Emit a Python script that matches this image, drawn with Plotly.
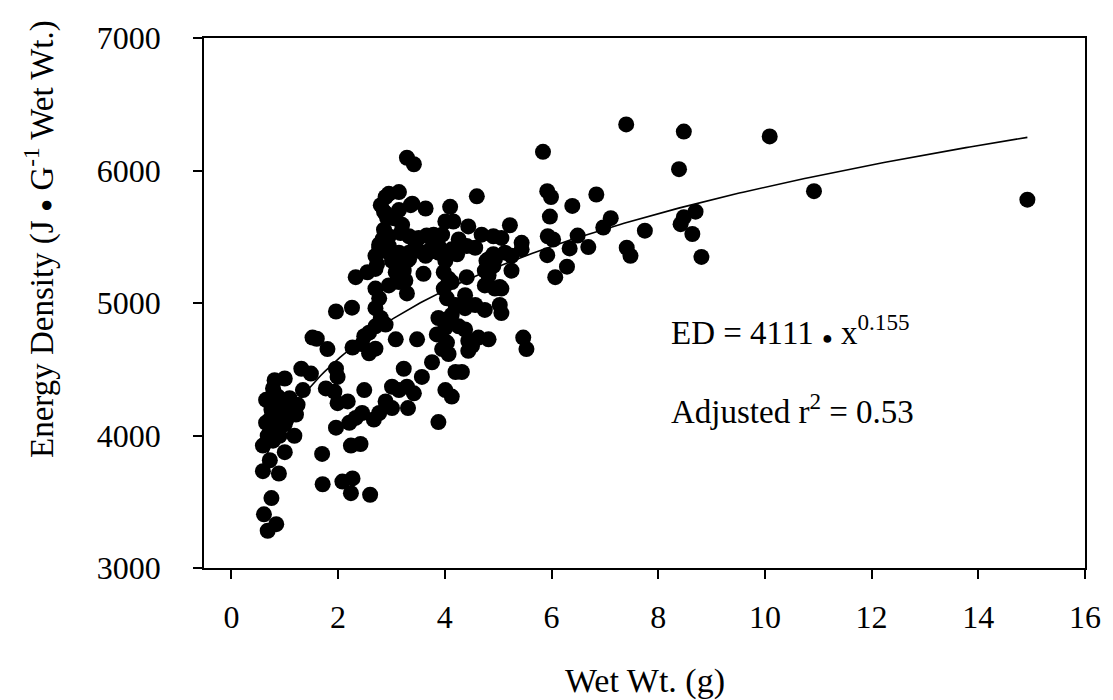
import numpy as np
import plotly.graph_objects as go

# values
wet_wt = [
    14.92, 10.92, 10.09, 8.48, 7.40, 8.39, 5.84, 3.29, 3.42,
    5.92, 5.99, 6.84, 6.39, 5.97, 7.11, 6.97, 8.70, 8.48, 8.42, 7.75, 8.64, 5.93, 6.03,
    6.49, 6.34, 6.69, 7.41, 7.48, 5.92, 8.81, 6.29, 6.07,
    4.60, 4.10, 5.22, 4.01, 4.16, 4.44, 4.69, 4.91, 5.06, 5.44, 4.26, 3.88, 4.13, 4.41,
    4.57, 4.82, 4.91, 5.13, 5.25, 5.44,
    3.98, 4.07, 4.41, 4.75, 4.91, 5.25, 3.98, 4.04, 4.38, 4.75, 4.94, 5.06, 4.20, 4.38,
    4.57, 4.75, 5.06, 3.88, 4.01, 4.26, 4.38, 3.85, 4.04, 4.44, 4.63, 4.82, 5.47, 5.53,
    4.07, 3.95, 3.76, 4.20, 4.32, 4.01, 4.13, 3.88, 4.51, 4.44, 4.13, 4.01, 5.03, 4.78,
    4.94, 4.82, 5.03, 4.13, 4.01, 4.23, 4.01,
    2.95, 3.14, 3.39, 3.64, 3.20, 2.86, 2.95, 3.51, 3.66, 3.14, 3.33, 3.64, 3.82, 3.60,
    3.29, 2.89, 3.08, 3.48, 3.23, 3.57, 3.01, 3.14, 3.29, 3.42, 3.31, 2.89, 2.80, 2.89,
    3.36, 3.14, 3.05, 3.17, 3.79, 3.95, 2.83, 2.77, 2.95, 3.01, 2.70, 2.73, 3.33, 3.29,
    2.33, 2.55, 2.70, 3.08, 3.23, 3.26, 2.70, 2.77, 2.70, 1.96, 2.26, 2.80, 2.70, 2.58,
    2.49, 2.45, 1.52, 1.80, 2.27, 2.58, 2.70, 2.86, 2.92, 2.77, 2.95, 3.20, 3.14, 2.95,
    3.33, 3.45, 3.51, 3.73, 3.88,
    1.31, 1.49, 1.96, 1.99, 0.81, 1.00, 2.49, 1.77, 1.93, 1.34, 1.99, 2.18, 2.89, 3.01,
    2.77, 2.67, 2.45, 2.33, 2.21, 1.96, 2.24, 2.42, 1.70, 1.71, 2.08, 2.27, 2.24, 2.60,
    0.59, 0.72, 0.59, 0.89, 1.00, 1.18, 0.75, 0.61, 0.68, 0.84, 0.78, 0.65, 0.87, 1.09,
    1.24, 0.75, 0.93, 1.12, 0.72, 0.87, 1.03, 1.21, 0.65, 0.81, 1.00, 0.68, 0.90, 0.78,
    1.60,
]
energy = [
    5780, 5844, 6257, 6294, 6348, 6010, 6141, 6096, 6047,
    5844, 5800, 5819, 5733, 5652, 5640, 5570, 5689, 5647, 5595, 5546, 5521, 5504, 5479,
    5509, 5412, 5422, 5417, 5356, 5361, 5348, 5274, 5195,
    5805, 5726, 5587, 5615, 5615, 5578, 5516, 5504, 5491, 5454, 5479, 5430, 5405, 5430,
    5417, 5331, 5368, 5380, 5356, 5405,
    5232, 5183, 5195, 5244, 5281, 5244, 5109, 5035, 5059, 5133, 5109, 5109, 4985, 4961,
    4985, 4948, 4924, 4887, 4813, 4824, 4800, 4763, 4701, 4713, 4739, 4726, 4739, 4652,
    4615, 4652, 4553, 4479, 4479, 4343, 4294, 4101, 4676, 4639, 4911, 4874, 4985, 5318,
    5331, 5207, 5121, 5158, 5318, 5368, 5368,
    5824, 5837, 5750, 5713, 5590, 5553, 5504, 5491, 5510, 5380, 5331, 5356, 5393, 5220,
    5072, 4837, 4726, 4726, 4504, 4442, 4368, 4343, 4368, 4318, 4207, 5800, 5738, 5676,
    5738, 5701, 5639, 5528, 5516, 5516, 5479, 5417, 5380, 5318, 5356, 5294, 5380, 5318,
    5195, 5232, 5257, 5232, 5244, 5170, 5109, 5035, 4961, 4936, 4965, 4887, 4824, 4776,
    4750, 4689, 4739, 4652, 4664, 4620, 4655, 5689, 5640, 5442, 5430, 5306, 5158, 5133,
    5504, 5430, 5393, 5405, 5380,
    4504, 4467, 4504, 4442, 4417, 4430, 4343, 4355, 4331, 4343, 4244, 4257, 4257, 4207,
    4170, 4121, 4170, 4133, 4096, 4059, 3924, 3936, 3861, 3632, 3652, 3676, 3565, 3553,
    3924, 3813, 3731, 3713, 3874, 3998, 3528, 3405, 3281, 3331, 4355, 4269, 4294, 4281,
    4232, 4195, 4207, 4195, 4121, 4133, 4121, 4158, 4096, 4072, 4084, 3998, 3998, 3961,
    4730,
]

# fitted power curve ED = a * x^b
fit_a = 4111
fit_b = 0.155
fit_x = np.linspace(min(wet_wt), max(wet_wt), 200)
fit_y = fit_a * fit_x ** fit_b

x_ticks = [0, 2, 4, 6, 8, 10, 12, 14, 16]
y_ticks = [3000, 4000, 5000, 6000, 7000]

font_name = 'Liberation Serif, Times New Roman, serif'

fig = go.Figure()

fig.add_trace(go.Scatter(x=wet_wt, y=energy, mode='markers',
                         marker=dict(size=16, color='black', line=dict(width=0)),
                         showlegend=False))

fig.add_trace(go.Scatter(x=fit_x, y=fit_y, mode='lines',
                         line=dict(color='black', width=1.6), showlegend=False))

axis_style = dict(showline=True, linecolor='black', linewidth=1.5, mirror=True,
                  ticks='outside', ticklen=9, tickwidth=1.5, tickcolor='black',
                  showgrid=False, zeroline=False, ticklabeloverflow='allow',
                  tickfont=dict(family=font_name, size=32, color='black'))

fig.update_xaxes(range=[-0.514, 16], tickvals=x_ticks, ticklabelstandoff=11, **axis_style)
fig.update_yaxes(range=[3000, 7000], tickvals=y_ticks, ticklabelstandoff=26, **axis_style)

fig.add_annotation(text='ED = 4111 <span style="font-size:18px">●</span> x<sup>0.155</sup>',
                   x=8.21, y=4793, xref='x', yref='y', xanchor='left', yanchor='middle',
                   showarrow=False, font=dict(family=font_name, size=33, color='black'))
fig.add_annotation(text='Adjusted r<sup>2</sup> = 0.53',
                   x=8.21, y=4200, xref='x', yref='y', xanchor='left', yanchor='middle',
                   showarrow=False, font=dict(family=font_name, size=33, color='black'))

# axis titles
fig.add_annotation(text='Wet Wt. (g)', x=0.5, y=0, xref='paper', yref='paper',
                   yshift=-113, yanchor='middle', showarrow=False,
                   font=dict(family=font_name, size=34, color='black'))
fig.add_annotation(text='Energy Density (J <span style="font-size:22px">●</span> G<sup>-1</sup> Wet Wt.)',
                   x=0, y=1, xref='paper', yref='paper', textangle=-90,
                   xshift=-165, yshift=-201, xanchor='center', yanchor='middle',
                   showarrow=False, font=dict(family=font_name, size=33, color='black'))

# page body adds an 8px margin, so the figure starts 8px in from the window corner
fig.update_layout(
    width=1105,
    height=692,
    margin=dict(l=196, r=23, t=20, b=132),
    plot_bgcolor='white',
    paper_bgcolor='white',
)

fig.write_html("out.html")
